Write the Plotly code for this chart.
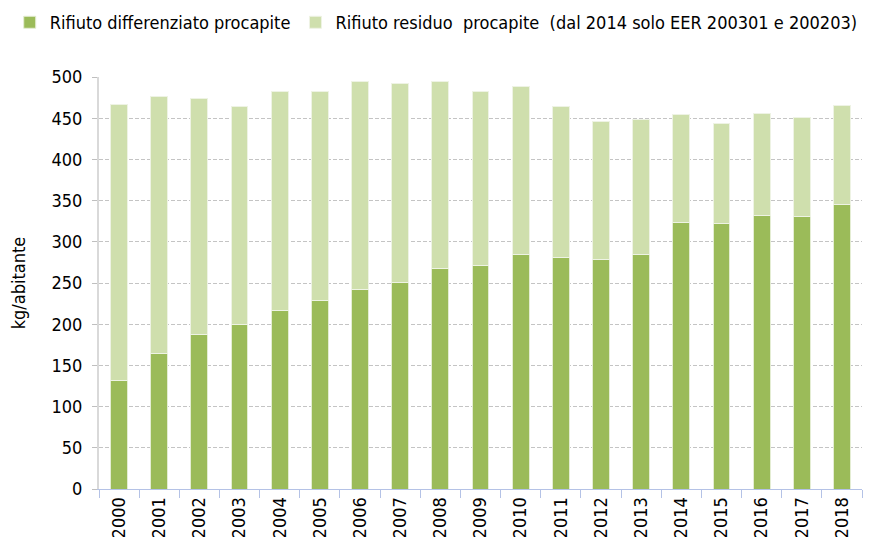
import plotly.graph_objects as go

years = [str(y) for y in range(2000, 2019)]
differenziato = [132, 164, 187, 200, 217, 229, 242, 251, 267, 271, 284, 281, 278, 285, 323, 322, 332, 331, 345]
totale = [467, 476, 474, 464, 483, 482, 495, 492, 495, 482, 488, 464, 446, 449, 455, 444, 456, 451, 466]
residuo = [t - d for t, d in zip(totale, differenziato)]

FONT = "DejaVu Sans Condensed"

fig = go.Figure()
fig.add_trace(go.Bar(
    x=years, y=differenziato, name="Rifiuto differenziato procapite",
    marker=dict(color="#9BBB59", line=dict(color="#E4EDD3", width=1)),
))
fig.add_trace(go.Bar(
    x=years, y=residuo, name="Rifiuto residuo  procapite  (dal 2014 solo EER 200301 e 200203)",
    marker=dict(color="#CFDFAD", line=dict(color="#EEF3E4", width=1)),
))

# page body adds 8px, so the figure is 8px smaller than the window
fig.update_layout(
    barmode="stack",
    bargap=0.58,
    width=863, height=529,
    margin=dict(l=91, r=9, t=69, b=48, autoexpand=False),
    paper_bgcolor="white", plot_bgcolor="white",
    font=dict(family=FONT, size=18, color="#000000"),
    legend=dict(orientation="h", x=-0.117, xref="paper", y=1.177, yref="paper",
                yanchor="top", xanchor="left", font=dict(size=18),
                itemwidth=30, traceorder="normal"),
    xaxis=dict(
        type="category", tickangle=-90, automargin=False,
        showline=True, linecolor="#B4C2E6", linewidth=1,
        ticks="outside", tickson="boundaries", ticklen=8, tickcolor="#B4C2E6",
        tickfont=dict(size=18), showgrid=False,
    ),
    yaxis=dict(
        range=[0, 500], dtick=50, automargin=False,
        showline=True, linecolor="#D9D9D9", linewidth=2,
        ticks="outside", ticklen=5, tickcolor="#BFBFBF", ticklabelstandoff=6,
        showgrid=True, gridcolor="#C4C4C4", griddash="4px,2px", gridwidth=1,
        tickfont=dict(size=18), zeroline=False,
        title=dict(text="kg/abitante", font=dict(size=18), standoff=22),
    ),
)

fig.write_html("out.html")
